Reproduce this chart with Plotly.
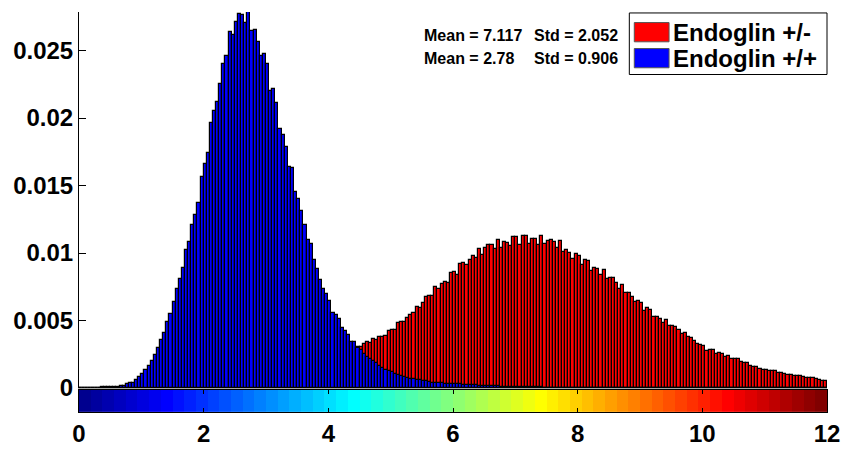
import plotly.graph_objects as go

# Histogram bins: 240 bins of width 0.05 covering 0..12
BIN_START = 0.025
BIN_WIDTH = 0.05

# Normalised bin frequencies, Endoglin +/- (red)
endoglin_het = [
    0, 0, 0, 0, 0, 0, 0, 0, 0, 0,
    0, 0, 0, 0, 0, 0.00001, 0.00001, 0.00002, 0.00002, 0.00003,
    0.00004, 0.00005, 0.00006, 0.00007, 0.00008, 0.0001, 0.00011, 0.00012, 0.00013, 0.00014,
    0.00015, 0.00017, 0.00019, 0.00021, 0.00024, 0.00026, 0.00029, 0.00031, 0.00034, 0.00037,
    0.0004, 0.00043, 0.00047, 0.0005, 0.00054, 0.00058, 0.00062, 0.00067, 0.00071, 0.00076,
    0.0008, 0.00085, 0.0009, 0.00096, 0.00101, 0.00107, 0.00113, 0.00119, 0.00126, 0.00133,
    0.0014, 0.00147, 0.00154, 0.00161, 0.00168, 0.00175, 0.00182, 0.00189, 0.00196, 0.00203,
    0.0021, 0.00216, 0.00222, 0.00228, 0.00234, 0.0024, 0.00245, 0.0025, 0.00255, 0.0026,
    0.00265, 0.0027, 0.00274, 0.00278, 0.00282, 0.00286, 0.0029, 0.00294, 0.00297, 0.00300,
    0.00307, 0.00326, 0.00338, 0.00331, 0.00361, 0.00354, 0.00381, 0.00381, 0.00386, 0.00421,
    0.00433, 0.00426, 0.00479, 0.00486, 0.0049, 0.00516, 0.0054, 0.00552, 0.006, 0.00593,
    0.00631, 0.00671, 0.00683, 0.00683, 0.00747, 0.00731, 0.00774, 0.00786, 0.00779, 0.00855,
    0.00862, 0.00838, 0.00921, 0.00929, 0.00909, 0.00945, 0.00979, 0.00962, 0.01029, 0.00988,
    0.01036, 0.0106, 0.01057, 0.01029, 0.011, 0.0104, 0.01083, 0.01076, 0.0105, 0.01117,
    0.01119, 0.01057, 0.01129, 0.01129, 0.01064, 0.01105, 0.01105, 0.0106, 0.01126, 0.01064,
    0.01088, 0.01098, 0.01079, 0.01036, 0.01086, 0.0101, 0.01024, 0.01, 0.00957, 0.0099,
    0.00976, 0.00909, 0.0095, 0.00938, 0.00867, 0.0089, 0.00881, 0.00836, 0.00871, 0.00807,
    0.00817, 0.00812, 0.00778, 0.00736, 0.00762, 0.00707, 0.00702, 0.00676, 0.00636, 0.00647,
    0.00631, 0.00571, 0.00593, 0.00579, 0.00524, 0.00529, 0.00514, 0.00481, 0.00505, 0.00457,
    0.00457, 0.0045, 0.00426, 0.00398, 0.00409, 0.00374, 0.00367, 0.0035, 0.00326, 0.00321,
    0.0031, 0.00274, 0.00283, 0.00279, 0.0025, 0.00257, 0.0025, 0.00231, 0.00238, 0.00214,
    0.00212, 0.00212, 0.00195, 0.00183, 0.00183, 0.00164, 0.00159, 0.00152, 0.00138, 0.00136,
    0.00136, 0.00126, 0.00124, 0.00124, 0.00109, 0.00109, 0.00105, 0.00093, 0.00095, 0.00088,
    0.00088, 0.00088, 0.00081, 0.00076, 0.00071, 0.00071, 0.00064, 0.00059, 0.00052, 0.00052,
]

# Normalised bin frequencies, Endoglin +/+ (blue)
endoglin_wt = [
    0, 0, 0.00001, 0.00001, 0.00002, 0.00002, 0.00003, 0.00004, 0.00005, 0.00006,
    0.00007, 0.00008, 0.00009, 0.00012, 0.00018, 0.00026, 0.00038, 0.0004, 0.0006, 0.0008,
    0.001, 0.0013, 0.00166, 0.002, 0.00247, 0.00295, 0.00357, 0.0041, 0.0049, 0.0055,
    0.0064, 0.0073, 0.0081, 0.0089, 0.0102, 0.0108, 0.0121, 0.0128, 0.0137, 0.0156,
    0.0166, 0.0174, 0.0196, 0.0205, 0.0212, 0.0225, 0.024, 0.0246, 0.02636, 0.02616,
    0.02714, 0.02774, 0.02766, 0.02707, 0.02788, 0.02647, 0.02652, 0.02564, 0.02457, 0.02474,
    0.02402, 0.022, 0.02216, 0.02111, 0.01921, 0.01874, 0.01786, 0.0164, 0.01629, 0.01452,
    0.01402, 0.01314, 0.01207, 0.011, 0.01064, 0.00945, 0.00879, 0.00802, 0.0073, 0.00695,
    0.00647, 0.00557, 0.0054, 0.00511, 0.00445, 0.00421, 0.00393, 0.00343, 0.00338, 0.00295,
    0.00279, 0.00254, 0.00231, 0.00211, 0.002, 0.00183, 0.00164, 0.00147, 0.00136, 0.00129,
    0.00116, 0.001, 0.00098, 0.00088, 0.00083, 0.00076, 0.00069, 0.00064, 0.00062, 0.00059,
    0.00054, 0.00052, 0.00045, 0.0004, 0.00039, 0.00036, 0.00035, 0.00033, 0.00032, 0.00028,
    0.00028, 0.00027, 0.00026, 0.00025, 0.00024, 0.00022, 0.0002, 0.00019, 0.00018, 0.00016,
    0.00015, 0.00014, 0.00013, 0.00012, 0.00011, 0.0001, 0.00009, 0.00009, 0.00008, 0.00007,
    0.00007, 0.00006, 0.00006, 0.00005, 0.00005, 0.00005, 0.00004, 0.00004, 0.00004, 0.00003,
    0.00003, 0.00003, 0.00003, 0.00002, 0.00002, 0.00002, 0.00002, 0.00002, 0.00002, 0.00002,
    0.00002, 0.00002, 0.00002, 0.00002, 0.00001, 0.00001, 0.00001, 0.00001, 0.00001, 0.00001,
    0.00001, 0.00001, 0.00001, 0.00001, 0.00001, 0.00001, 0.00001, 0.00001, 0.00001, 0.00001,
    0.00001, 0.00001, 0.00001, 0.00001, 0, 0, 0, 0, 0, 0,
    0, 0, 0, 0, 0, 0, 0, 0, 0, 0,
    0, 0, 0, 0, 0, 0, 0, 0, 0, 0,
    0, 0, 0, 0, 0, 0, 0, 0, 0, 0,
    0, 0, 0, 0, 0, 0, 0, 0, 0, 0,
    0, 0, 0, 0, 0, 0, 0, 0, 0, 0,
]

assert len(endoglin_het) == 240 and len(endoglin_wt) == 240

series_names = ["Endoglin +/-", "Endoglin +/+"]
series_colors = ["#ff0000", "#0000ff"]
stats_mean = ["Mean = 7.117", "Mean = 2.78"]
stats_std = ["Std = 2.052", "Std = 0.906"]

y_tick_vals = [0, 0.005, 0.01, 0.015, 0.02, 0.025]
y_tick_text = ["0", "0.005", "0.01", "0.015", "0.02", "0.025"]
x_tick_vals = [0, 2, 4, 6, 8, 10, 12]
X_MAX = 12
Y_MAX = 0.02786


def matlab_jet(m=64):
    """Colours of MATLAB's jet(m) colormap as rgb() strings."""
    n = -(-m // 4)
    u = [i / n for i in range(1, n + 1)] + [1.0] * (n - 1) + [i / n for i in range(n, 0, -1)]
    g0 = -(-n // 2) - (1 if m % 4 == 1 else 0)
    rgb = [[0.0, 0.0, 0.0] for _ in range(m)]
    for j, val in enumerate(u):
        g = g0 + j + 1
        r = g + n
        b = g - n
        if 1 <= r <= m:
            rgb[r - 1][0] = val
        if 1 <= g <= m:
            rgb[g - 1][1] = val
        if 1 <= b <= m:
            rgb[b - 1][2] = val
    return ["rgb(%d,%d,%d)" % tuple(round(255 * c) for c in col) for col in rgb]


jet = matlab_jet(64)
n_levels = len(jet)
level_centers = [(i + 0.5) * X_MAX / n_levels for i in range(n_levels)]

FONT = "Arial, Liberation Sans, sans-serif"
W, H = 852, 459
M_L, M_R, M_T, M_B = 79, 20, 12, 31
PLOT_H = H - M_T - M_B
PLOT_W = W - M_L - M_R


def px_x(px):
    return (px - M_L) / PLOT_W


def px_y(py):
    return (H - M_B - py) / PLOT_H


fig = go.Figure()

# Red histogram behind, blue in front
for vals, name, color in zip([endoglin_het, endoglin_wt], series_names, series_colors):
    fig.add_trace(go.Bar(
        x0=BIN_START, dx=BIN_WIDTH, y=vals, name=name,
        marker=dict(color=color, line=dict(color="black", width=1.2)),
        xaxis="x", yaxis="y", showlegend=False,
    ))

# Colour strip under the histogram
fig.add_trace(go.Heatmap(
    x=level_centers, y=[0.5], z=[list(range(n_levels))],
    colorscale=[[i / (n_levels - 1), c] for i, c in enumerate(jet)],
    zmin=0, zmax=n_levels - 1, showscale=False, hoverinfo="skip",
    xaxis="x2", yaxis="y2",
))

tick_font = dict(family=FONT, size=24, color="black", weight="bold")

fig.update_layout(
    width=W, height=H,
    margin=dict(l=M_L, r=M_R, t=M_T, b=M_B),
    paper_bgcolor="white", plot_bgcolor="white",
    barmode="overlay", bargap=0,
    xaxis=dict(domain=[0, 1], anchor="y", range=[0, X_MAX], showticklabels=False,
               ticks="", showline=True, linecolor="#a8a8a8", linewidth=2,
               showgrid=False, zeroline=False),
    yaxis=dict(domain=[px_y(403), 1], anchor="x", range=[0, Y_MAX],
               tickvals=y_tick_vals, ticktext=y_tick_text, tickfont=tick_font,
               ticks="inside", ticklen=7, tickcolor="black", showline=True,
               linecolor="black", linewidth=1, showgrid=False, zeroline=False),
    xaxis2=dict(domain=[0, 1], anchor="y2", range=[0, X_MAX], tickvals=x_tick_vals,
                tickfont=tick_font, ticks="inside", ticklen=4, tickcolor="black",
                showline=True, mirror="ticks", linecolor="black", linewidth=1,
                showgrid=False, zeroline=False),
    yaxis2=dict(domain=[0, px_y(405)], anchor="x2", range=[0, 1], showticklabels=False,
                ticks="", showline=True, mirror=True, linecolor="black", linewidth=1,
                showgrid=False, zeroline=False),
)

# Summary statistics next to the legend
stat_rows_y = [36, 60]
annotations = []
for mean_txt, std_txt, py in zip(stats_mean, stats_std, stat_rows_y):
    for txt, px in ((mean_txt, 424), (std_txt, 535)):
        annotations.append(dict(
            xref="paper", yref="paper", x=px_x(px), y=px_y(py), text=txt,
            showarrow=False, xanchor="left", yanchor="middle",
            font=dict(family=FONT, size=16, color="black", weight="bold"),
        ))

# Legend box with colour swatches
shapes = [dict(type="rect", xref="paper", yref="paper",
               x0=px_x(633), x1=px_x(832), y0=px_y(77), y1=px_y(13),
               line=dict(color="black", width=1), fillcolor="white", layer="above")]
legend_rows_y = [33, 60]
for name, color, py in zip(series_names, series_colors, legend_rows_y):
    shapes.append(dict(type="rect", xref="paper", yref="paper",
                       x0=px_x(638), x1=px_x(673), y0=px_y(py + 10), y1=px_y(py - 10),
                       line=dict(color="#555555", width=1), fillcolor=color, layer="above"))
    annotations.append(dict(
        xref="paper", yref="paper", x=px_x(675), y=px_y(py), text=name,
        showarrow=False, xanchor="left", yanchor="middle",
        font=dict(family=FONT, size=24, color="black", weight="bold"),
    ))

fig.update_layout(shapes=shapes, annotations=annotations)

fig.write_html("out.html")
